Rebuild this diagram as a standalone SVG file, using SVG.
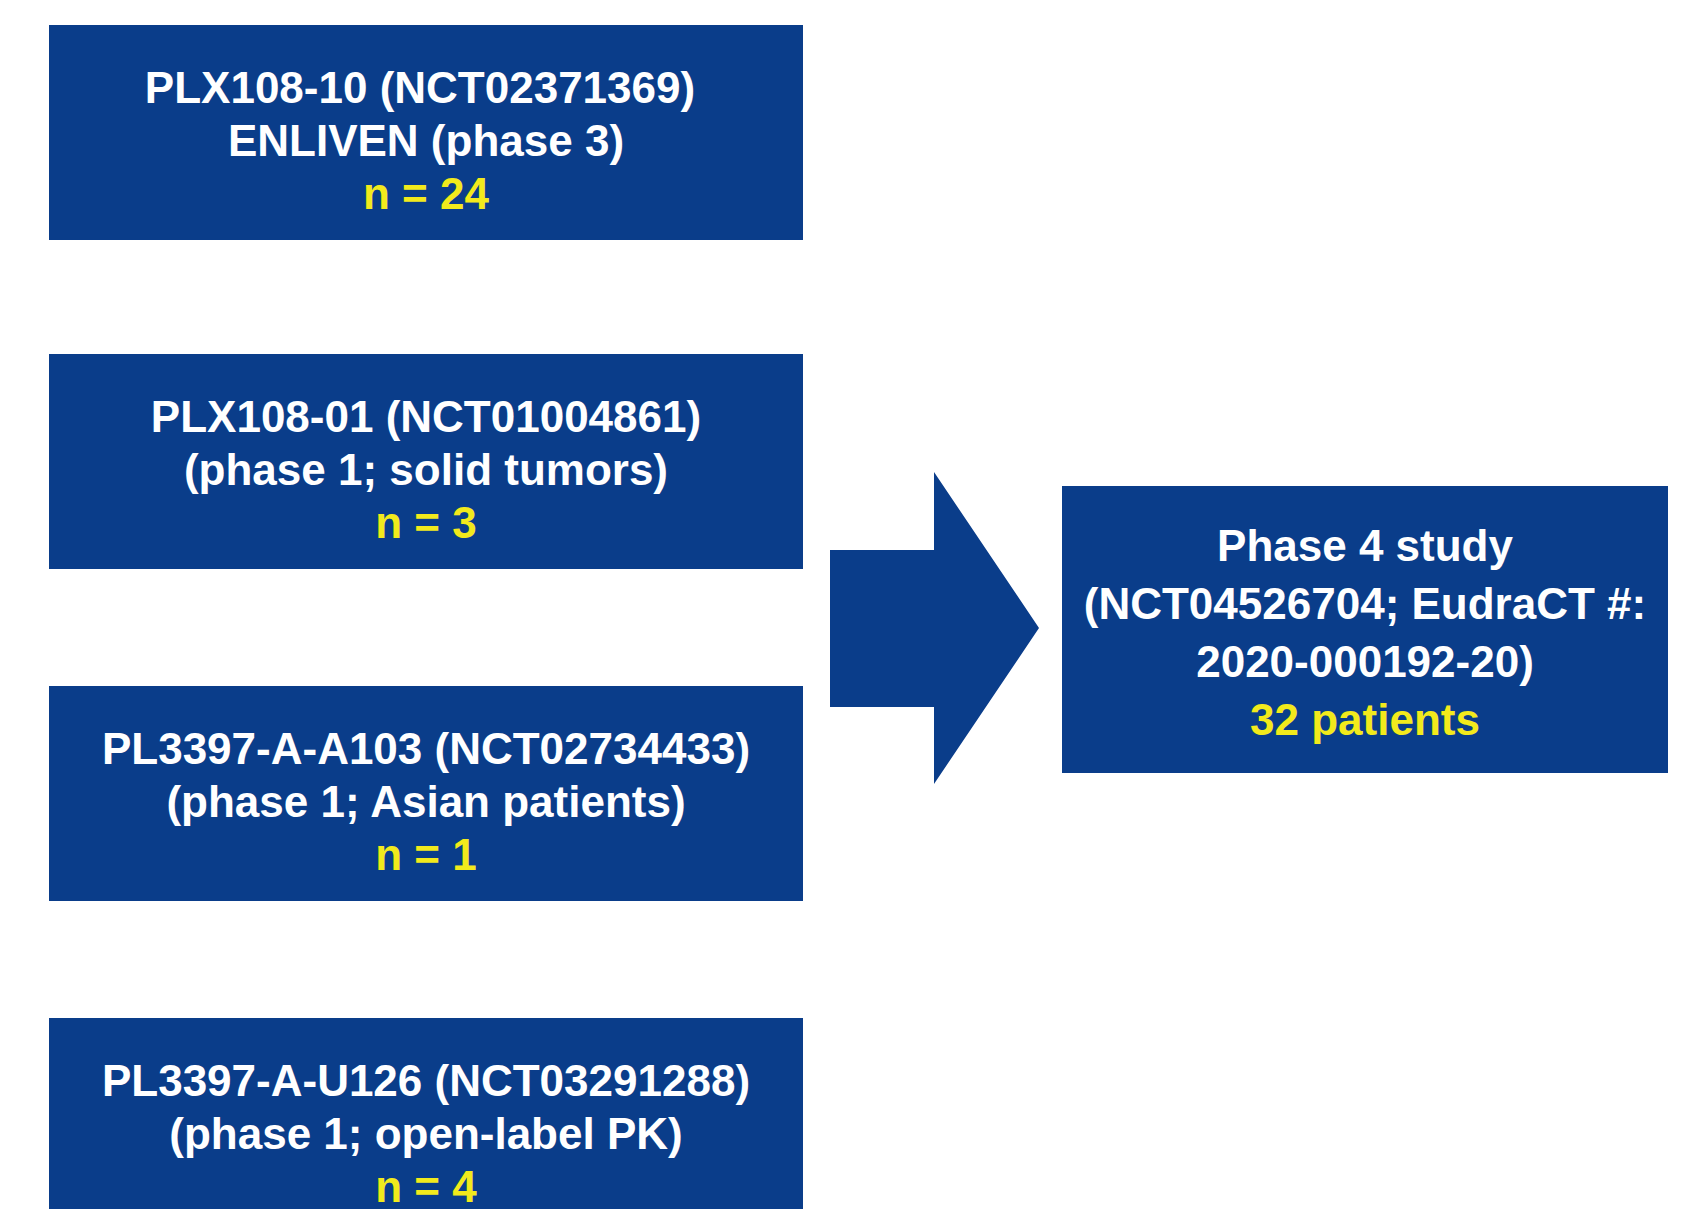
<svg xmlns="http://www.w3.org/2000/svg" width="1697" height="1209" viewBox="0 0 1697 1209">
<style>
.box{fill:#0a3d8a}
.t{font-family:"Liberation Sans",Arial,sans-serif;font-weight:bold;font-size:44px;text-anchor:middle;fill:#ffffff}
.y{fill:#f2ea1c}
</style>
<rect width="1697" height="1209" fill="#ffffff"/>
<g id="connectors">
<polygon class="box" points="830,550 934,550 934,472 1039,628 934,784 934,707 830,707"/>
</g>
<g id="node1">
<rect class="box" x="49" y="25" width="754" height="215"/>
<text class="t" x="420" y="103">PLX108-10 (NCT02371369)</text>
<text class="t" x="426" y="156">ENLIVEN (phase 3)</text>
<text class="t y" x="426" y="209">n = 24</text>
</g>
<g id="node2">
<rect class="box" x="49" y="354" width="754" height="215"/>
<text class="t" x="426" y="432">PLX108-01 (NCT01004861)</text>
<text class="t" x="426" y="485">(phase 1; solid tumors)</text>
<text class="t y" x="426" y="538">n = 3</text>
</g>
<g id="node3">
<rect class="box" x="49" y="686" width="754" height="215"/>
<text class="t" x="426" y="764">PL3397-A-A103 (NCT02734433)</text>
<text class="t" x="426" y="817">(phase 1; Asian patients)</text>
<text class="t y" x="426" y="870">n = 1</text>
</g>
<g id="node4">
<rect class="box" x="49" y="1018" width="754" height="215"/>
<text class="t" x="426" y="1096">PL3397-A-U126 (NCT03291288)</text>
<text class="t" x="426" y="1149">(phase 1; open-label PK)</text>
<text class="t y" x="426" y="1202">n = 4</text>
</g>
<g id="node5">
<rect class="box" x="1062" y="486" width="606" height="287"/>
<text class="t" x="1365" y="561">Phase 4 study</text>
<text class="t" x="1365" y="619">(NCT04526704; EudraCT #:</text>
<text class="t" x="1365" y="677">2020-000192-20)</text>
<text class="t y" x="1365" y="735">32 patients</text>
</g>
</svg>
